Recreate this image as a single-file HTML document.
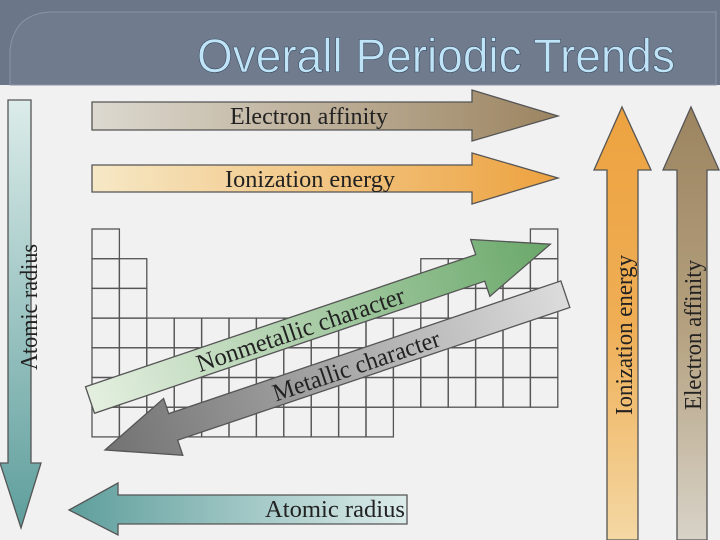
<!DOCTYPE html>
<html><head><meta charset="utf-8"><style>
html,body{margin:0;padding:0;width:720px;height:540px;overflow:hidden;background:#f1f1f1}
svg{display:block}
</style></head><body>
<svg width="720" height="540" viewBox="0 0 720 540" xmlns="http://www.w3.org/2000/svg">
<defs>
<linearGradient id="gEA" x1="0" x2="1"><stop offset="0" stop-color="#dcd9d0"/><stop offset="1" stop-color="#9c8460"/></linearGradient>
<linearGradient id="gIE" x1="0" x2="1"><stop offset="0" stop-color="#f6e8c6"/><stop offset="1" stop-color="#eda23f"/></linearGradient>
<linearGradient id="gAR" x1="0" x2="1"><stop offset="0" stop-color="#5e9e9c"/><stop offset="1" stop-color="#dcecea"/></linearGradient>
<linearGradient id="gARv" x1="0" y1="0" x2="0" y2="1"><stop offset="0" stop-color="#dcecea"/><stop offset="1" stop-color="#5e9e9c"/></linearGradient>
<linearGradient id="gIEv" x1="0" y1="1" x2="0" y2="0"><stop offset="0" stop-color="#f4d8a4"/><stop offset="0.5" stop-color="#efae55"/><stop offset="1" stop-color="#eda23f"/></linearGradient>
<linearGradient id="gEAv" x1="0" y1="1" x2="0" y2="0"><stop offset="0" stop-color="#d8d3c8"/><stop offset="0.5" stop-color="#b4a07e"/><stop offset="1" stop-color="#9c8460"/></linearGradient>
<linearGradient id="gNM" x1="0" x2="1"><stop offset="0" stop-color="#e4efe0"/><stop offset="1" stop-color="#6aa86a"/></linearGradient>
<linearGradient id="gM" x1="0" x2="1"><stop offset="0" stop-color="#727272"/><stop offset="1" stop-color="#dcdcdc"/></linearGradient>
</defs>
<rect x="0" y="0" width="720" height="85" fill="#6b7689"/>
<path d="M10 85 L10 50 Q14 14 50 12 L716 12 L716 85 Z" fill="#707b8e" stroke="#8a94a5" stroke-width="1"/>
<text x="675" y="72" text-anchor="end" font-family="Liberation Sans, sans-serif" font-size="47" fill="#bfe4f8" stroke="#3a4a60" stroke-width="0.6" textLength="478" lengthAdjust="spacingAndGlyphs">Overall Periodic Trends</text>

<g id="grid" stroke="#555" stroke-width="1.3" fill="none"></g>

<path d="M92 102 L472 102 L472 90 L558 116 L472 141 L472 130 L92 130 Z" fill="url(#gEA)" stroke="#555" stroke-width="1.3"/>
<text x="309" y="124" text-anchor="middle" font-family="Liberation Serif, serif" font-size="24" fill="#222" textLength="158" lengthAdjust="spacingAndGlyphs">Electron affinity</text>
<path d="M92 165 L472 165 L472 153 L558 178 L472 204 L472 192 L92 192 Z" fill="url(#gIE)" stroke="#555" stroke-width="1.3"/>
<text x="310" y="187" text-anchor="middle" font-family="Liberation Serif, serif" font-size="24" fill="#222" textLength="170" lengthAdjust="spacingAndGlyphs">Ionization energy</text>

<path d="M8 100 L31 100 L31 463 L41 463 L21 528 L0 463 L8 463 Z" fill="url(#gARv)" stroke="#555" stroke-width="1.3"/>
<text transform="translate(37,307) rotate(-90)" text-anchor="middle" font-family="Liberation Serif, serif" font-size="24" fill="#222" textLength="126" lengthAdjust="spacingAndGlyphs">Atomic radius</text>

<path d="M407 495 L118 495 L118 483 L69 510 L118 535 L118 524 L407 524 Z" fill="url(#gAR)" stroke="#555" stroke-width="1.3"/>
<text x="335" y="517" text-anchor="middle" font-family="Liberation Serif, serif" font-size="24" fill="#222" textLength="140" lengthAdjust="spacingAndGlyphs">Atomic radius</text>

<path d="M607 540 L607 170 L594 170 L622 107 L651 170 L638 170 L638 540 Z" fill="url(#gIEv)" stroke="#555" stroke-width="1.3"/>
<text transform="translate(632,335) rotate(-90)" text-anchor="middle" font-family="Liberation Serif, serif" font-size="24" fill="#222" textLength="160" lengthAdjust="spacingAndGlyphs">Ionization energy</text>
<path d="M677 540 L677 170 L663 170 L691 107 L719 170 L707 170 L707 540 Z" fill="url(#gEAv)" stroke="#555" stroke-width="1.3"/>
<text transform="translate(701,335) rotate(-90)" text-anchor="middle" font-family="Liberation Serif, serif" font-size="24" fill="#222" textLength="150" lengthAdjust="spacingAndGlyphs">Electron affinity</text>

<g transform="translate(90,400) rotate(-18.7)">
<path d="M0 -14 L412 -14 L412 -30 L486 0 L412 30 L412 14 L0 14 Z" fill="url(#gNM)" stroke="#555" stroke-width="1.3"/>
<text x="222" y="9" text-anchor="middle" font-family="Liberation Serif, serif" font-size="25" fill="#222" textLength="218" lengthAdjust="spacingAndGlyphs">Nonmetallic character</text>
</g>
<g transform="translate(105,450) rotate(-18.7)">
<path d="M0 0 L72 -30 L72 -14 L486 -14 L486 14 L72 14 L72 30 Z" fill="url(#gM)" stroke="#555" stroke-width="1.3"/>
<text x="265" y="9" text-anchor="middle" font-family="Liberation Serif, serif" font-size="25" fill="#222" textLength="175" lengthAdjust="spacingAndGlyphs">Metallic character</text>
</g>
</svg>
<script>
const g=document.getElementById('grid');
const cw=27.4, rh=29.7, x0=92, y0=229;
function cells(c0,c1,r0,r1){for(let c=c0;c<=c1;c++)for(let r=r0;r<=r1;r++){
const el=document.createElementNS('http://www.w3.org/2000/svg','rect');
el.setAttribute('x',x0+c*cw);el.setAttribute('y',y0+r*rh);el.setAttribute('width',cw);el.setAttribute('height',rh);


g.appendChild(el);}}
cells(0,0,0,6);cells(1,1,1,6);cells(2,10,3,6);cells(11,16,3,5);cells(12,16,1,2);cells(16,16,0,0);
</script>
</body></html>
